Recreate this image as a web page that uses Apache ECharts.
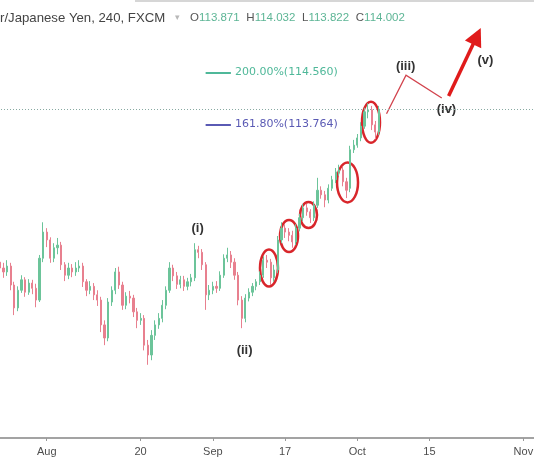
<!DOCTYPE html>
<html><head><meta charset="utf-8">
<script src="https://cdn.jsdelivr.net/npm/echarts@6/dist/echarts.min.js"></script>
<style>html,body{margin:0;padding:0;background:#fff;overflow:hidden}#c{width:534px;height:462px}</style>
</head><body><div id="c"></div>
<script>
// ---- tick labels ----
const tickDates = ['2018-08-01','2018-08-20','2018-09-03','2018-09-17','2018-10-01','2018-10-15','2018-11-01'];
const tickLabels = ['Aug','20','Sep','17','Oct','15','Nov'];

// ---- half-day candles, starting 2018-07-23 PM (USD/JPY) ----
const opens = [111.66,111.57,111.51,111.60,111.31,110.96,111.23,111.39,111.20,111.34,
111.26,111.08,111.72,112.12,112.00,111.72,111.88,111.92,111.62,111.46,
111.57,111.51,111.57,111.60,111.36,111.23,111.29,111.16,111.08,110.70,
110.50,111.05,111.23,111.51,111.31,111.00,111.14,111.11,110.90,110.77,
110.80,110.39,110.24,110.54,110.70,110.80,111.00,111.23,111.57,111.45,
111.32,111.39,111.29,111.36,111.42,111.85,111.81,111.62,111.16,111.23,
111.29,111.26,111.46,111.72,111.77,111.66,111.46,111.08,110.80,111.11,
111.20,111.29,111.36,111.46,111.69,111.66,111.42,111.54,112.00,112.18,
112.12,112.07,111.97,112.18,112.34,112.49,112.43,112.34,112.53,112.76,
112.69,112.61,112.79,112.92,113.04,113.07,112.89,112.79,113.38,113.45,
113.56,113.74,113.96,113.99,113.76,113.65];
const closes = [111.57,111.51,111.60,111.31,110.96,111.23,111.39,111.20,111.34,111.26,
111.08,111.72,112.12,112.00,111.72,111.88,111.92,111.62,111.46,111.57,
111.51,111.57,111.60,111.36,111.23,111.29,111.16,111.08,110.70,110.50,
111.05,111.23,111.51,111.31,111.00,111.14,111.11,110.90,110.77,110.80,
110.39,110.24,110.54,110.70,110.80,111.00,111.23,111.57,111.45,111.32,
111.39,111.29,111.36,111.42,111.85,111.81,111.62,111.16,111.23,111.29,
111.26,111.46,111.72,111.77,111.66,111.46,111.08,110.80,111.11,111.20,
111.29,111.36,111.46,111.69,111.66,111.42,111.54,112.00,112.18,112.12,
112.07,111.97,112.18,112.34,112.49,112.43,112.34,112.53,112.76,112.69,
112.61,112.79,112.92,113.04,113.07,112.89,112.76,113.38,113.45,113.56,
113.74,113.96,113.99,113.76,113.65,114.00];
const lows = [111.46,111.42,111.45,111.23,110.85,110.91,111.19,111.13,111.16,111.17,
110.97,111.05,111.66,111.89,111.65,111.66,111.78,111.54,111.37,111.40,
111.43,111.45,111.51,111.28,111.14,111.17,111.08,110.99,110.59,110.39,
110.45,110.99,111.17,111.25,110.93,110.94,111.03,110.82,110.65,110.70,
110.31,110.09,110.16,110.47,110.64,110.74,110.94,111.19,111.37,111.25,
111.26,111.22,111.23,111.29,111.37,111.72,111.54,110.93,111.08,111.17,
111.19,111.22,111.42,111.66,111.57,111.39,111.00,110.65,110.74,111.06,
111.14,111.23,111.31,111.42,111.57,111.31,111.36,111.49,111.95,112.03,
111.98,111.88,111.92,112.13,112.29,112.37,112.26,112.29,112.49,112.63,
112.50,112.56,112.75,112.87,112.98,112.82,112.64,112.73,113.33,113.41,
113.51,113.70,113.86,113.68,113.54,113.60];
const highs = [111.72,111.65,111.69,111.65,111.36,111.29,111.46,111.43,111.40,111.39,
111.33,111.77,112.27,112.18,112.04,111.95,112.03,111.97,111.66,111.65,
111.63,111.66,111.69,111.65,111.40,111.37,111.34,111.23,111.13,110.77,
111.11,111.29,111.57,111.59,111.36,111.20,111.22,111.16,110.96,110.88,
110.85,110.47,110.62,110.77,110.88,111.08,111.29,111.66,111.62,111.51,
111.45,111.45,111.42,111.48,111.95,111.91,111.86,111.66,111.31,111.36,
111.37,111.52,111.78,111.88,111.83,111.72,111.51,111.14,111.17,111.26,
111.34,111.40,111.52,111.75,111.77,111.71,111.62,112.06,112.27,112.24,
112.18,112.14,112.24,112.40,112.55,112.55,112.47,112.59,112.95,112.82,
112.75,112.85,112.98,113.10,113.15,113.12,112.95,113.44,113.53,113.62,
113.80,114.02,114.09,114.05,113.82,114.05];

// ---- legend / header values ----
const titleText = 'r/Japanese Yen, 240, FXCM';
const ohlcKeys = ['O','H','L','C'];
const ohlcValues = [113.871, 114.032, 113.822, 114.002];
const lastPrice = 114.002;

// ---- Fibonacci extension levels ----
const fibNames = ['200.00%', '161.80%'];
const fibLevels = [114.560, 113.764];

// ---- Elliott wave annotations (category index, price) ----
const waveLabels = ['(i)','(ii)','(iii)','(iv)','(v)'];
const waveLabelAt = [[54.8,112.18],[67.8,110.31],[112.4,114.65],[123.7,114.00],[134.5,114.74]];
const wavePath = [[107.1,113.93],[112.5,114.52],[122.4,114.17]];
const arrowPath = [[124.3,114.20],[133.2,115.24]];
const circleAt = [[74.55,111.57],[80.1,112.06],[85.5,112.38],[96.3,112.88],[102.8,113.80]];

// ---- category axis: trading half-days ----
const categories = [];
(function(){
  const d = new Date(Date.UTC(2018,6,23));
  let half = 1;
  while (categories.length < 149) {
    const dow = d.getUTCDay();
    if (dow !== 0 && dow !== 6) {
      const key = d.toISOString().slice(0,10);
      for (; half < 2 && categories.length < 149; half++) categories.push(key + (half ? ' PM' : ' AM'));
      half = 0;
    }
    d.setUTCDate(d.getUTCDate()+1);
  }
})();
function isTick(idx, val){ return val.endsWith('AM') && tickDates.indexOf(val.slice(0,10)) >= 0; }
function labelOf(val){ const k = tickDates.indexOf(val.slice(0,10)); return (k >= 0 && val.endsWith('AM')) ? tickLabels[k] : ''; }

const candleData = opens.map((o,k)=>[o, closes[k], lows[k], highs[k]]);
const fibColors = ['#4fb899', '#5a5ab4'];
const fibStart = 57, fibEnd = 64;

const chart = echarts.init(document.getElementById('c'));
chart.setOption({
  animation: false,
  backgroundColor: '#ffffff',
  grid: {left: -2, right: -2, top: 0, bottom: 24, containLabel: false, outerBoundsMode: 'none'},
  xAxis: {
    type: 'category', data: categories, boundaryGap: true,
    axisLine: {show: true, lineStyle: {color: '#a3a3a3', width: 2}},
    axisTick: {show: true, alignWithLabel: true, interval: isTick, length: 3, lineStyle: {color: '#999'}},
    axisLabel: {interval: isTick, formatter: labelOf, color: '#4d4d4d', fontSize: 11, fontFamily: 'Liberation Sans', margin: 8},
    splitLine: {show: false}
  },
  yAxis: {type: 'value', min: 108.97, max: 115.67, show: false, splitLine: {show: false}},
  series: [{
    type: 'candlestick',
    data: candleData,
    barWidth: 1.7,
    emphasis: {disabled: true},
    itemStyle: {color: '#6cc49a', color0: '#e8808f', borderColor: '#6cc49a', borderColor0: '#e8808f', borderWidth: 1},
    markLine: {
      silent: true, symbol: ['none','none'], animation: false,
      data: [
        {yAxis: lastPrice, lineStyle: {type: [1,2], color: '#88aaa2', width: 1}, label: {show: false}}
      ].concat(fibLevels.map((lv,k)=>[
        {coord: [fibStart, lv], lineStyle: {color: fibColors[k], width: 2, type: 'solid'},
         label: {show: true, position: 'end', formatter: fibNames[k] + '(' + lv.toFixed(3) + ')',
                 color: fibColors[k], fontSize: 11, fontFamily: 'DejaVu Sans', distance: 4}},
        {coord: [fibEnd, lv]}
      ]))
    }
  }]
});

function toPx(p){
  const x0 = Math.floor(p[0]);
  const a = chart.convertToPixel({gridIndex: 0}, [x0, p[1]]);
  const b = chart.convertToPixel({gridIndex: 0}, [x0 + 1, p[1]]);
  return [a[0] + (p[0] - x0) * (b[0] - a[0]), a[1]];
}

const circleR = [[9,18.5],[9,16],[8.5,13],[10.5,20],[9,20.5]];
const g = [];
g.push({type: 'rect', shape: {x: 135, y: 0, width: 400, height: 2}, style: {fill: '#d6d6d6'}, silent: true});
circleAt.forEach((c,k)=>{
  const p = toPx(c);
  g.push({type: 'ellipse', shape: {cx: p[0], cy: p[1], rx: circleR[k][0], ry: circleR[k][1]},
          style: {fill: null, stroke: '#d8262b', lineWidth: 2.5}, silent: true});
});
g.push({type: 'polyline', shape: {points: wavePath.map(toPx)}, style: {stroke: '#d2434d', lineWidth: 1.3, fill: null}, silent: true});
(function(){
  const s = toPx(arrowPath[0]), t = toPx(arrowPath[1]);
  const dx = t[0]-s[0], dy = t[1]-s[1], L = Math.hypot(dx,dy), ux = dx/L, uy = dy/L;
  const hl = 18, hw = 9;
  const bx = t[0]-ux*hl, by = t[1]-uy*hl;
  g.push({type: 'line', shape: {x1: s[0], y1: s[1], x2: bx + ux*2, y2: by + uy*2}, style: {stroke: '#e01b1b', lineWidth: 3.5}, silent: true});
  g.push({type: 'polygon', shape: {points: [[t[0],t[1]],[bx - uy*hw, by + ux*hw],[bx + uy*hw, by - ux*hw]]}, style: {fill: '#e01b1b'}, silent: true});
})();
waveLabels.forEach((t,k)=>{
  const p = toPx(waveLabelAt[k]);
  g.push({type: 'text', x: p[0], y: p[1], style: {text: t, font: 'bold 13px "Liberation Sans"', fill: '#333', align: 'center', verticalAlign: 'middle'}, silent: true});
});
g.push({type: 'text', x: 0, y: 18, style: {text: titleText, font: '13.2px "Liberation Sans"', fill: '#444', verticalAlign: 'middle'}, silent: true});
g.push({type: 'text', x: 175, y: 18, style: {text: '\u25BE', font: '9px "DejaVu Sans"', fill: '#b8b8b8', verticalAlign: 'middle'}, silent: true});
g.push({type: 'text', x: 190, y: 18, style: {
  text: ohlcKeys.map((k,i)=>'{k|' + k + '}{v|' + ohlcValues[i].toFixed(3) + '}').join('  '),
  verticalAlign: 'middle',
  rich: {k: {font: '11.5px "Liberation Sans"', fill: '#555'}, v: {font: '11.5px "Liberation Sans"', fill: '#5cb595'}}
}, silent: true});
chart.setOption({graphic: g});
</script></body></html>
